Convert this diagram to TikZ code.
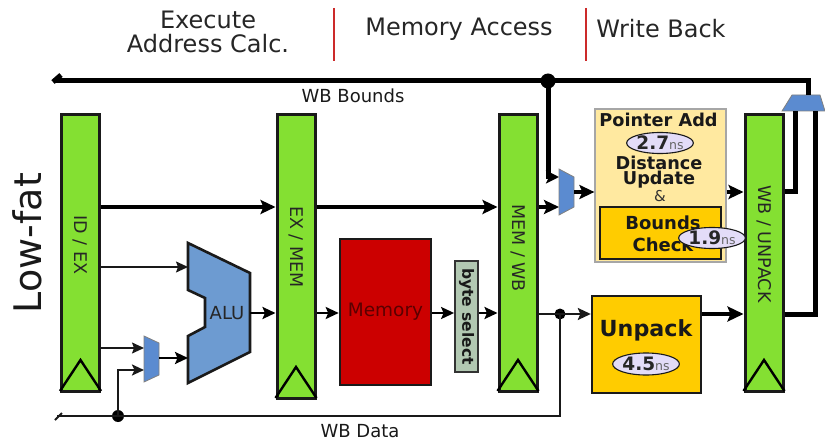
\documentclass[tikz,border=0pt]{standalone}
\usepackage{fontspec}
\setmainfont{DejaVu Sans}
\usetikzlibrary{arrows.meta,calc,shapes.geometric}
\definecolor{reggreen}{HTML}{84E032}
\definecolor{alublue}{HTML}{6D9BD1}
\definecolor{muxblue}{HTML}{5B8BD0}
\definecolor{memred}{HTML}{CC0000}
\definecolor{memtext}{HTML}{5A0000}
\definecolor{orangebox}{HTML}{FFCC00}
\definecolor{paleyellow}{HTML}{FFE9A0}
\definecolor{lilac}{HTML}{E3DCF8}
\definecolor{sagegrey}{HTML}{B2C8B2}
\definecolor{stagered}{HTML}{CC2A2A}
\definecolor{inkdark}{HTML}{1A1A1A}
\tikzset{
  regbox/.style={draw=inkdark,line width=3pt,fill=reggreen,inner sep=0pt,minimum width=38pt,text=inkdark},
  reglabel/.style={rotate=-90,font=\fontsize{17.5}{18}\selectfont,text=black!85},
  clk/.style={draw=black,line width=2.4pt,line join=miter},
  wirethin/.style={draw=black!90,line width=1.6pt,-{Stealth[length=12pt,width=11pt,inset=2pt]}},
  wiremed/.style={draw=black,line width=2.4pt,-{Stealth[length=13pt,width=12pt,inset=2.5pt]}},
  wirethick/.style={draw=black,line width=4.2pt,-{Stealth[length=15pt,width=14pt,inset=3pt]}},
  busthick/.style={draw=black,line width=5pt,line join=miter},
  busthin/.style={draw=black!90,line width=2.2pt,line join=miter},
  dot/.style={circle,fill=black,inner sep=0pt},
  nsoval/.style={ellipse,draw=inkdark,line width=1.1pt,fill=lilac,inner sep=0pt,minimum width=57pt,minimum height=21pt},
  stagehead/.style={font=\fontsize{24}{25}\selectfont,text=black!85,align=center},
  stagebar/.style={draw=stagered,line width=2pt},
  smalllabel/.style={font=\fontsize{18}{19}\selectfont,text=black!90},
  boldlabel/.style={font=\bfseries\fontsize{17.7}{15}\selectfont,text=black!90,align=center,inner sep=0pt},
}
\newcommand{\nslabel}[1]{{\bfseries\fontsize{18.5}{18}\selectfont\color{black!85}#1}{\fontsize{12.5}{12}\selectfont\color{black!60}ns}}
\begin{document}
\begin{tikzpicture}[x=1pt,y=-1pt]
\useasboundingbox (0,0) rectangle (825,441);
% rows
\coordinate (rowtop) at (0,81);
\coordinate (rowa) at (0,207);
\coordinate (rowb) at (0,314);
\coordinate (rowc) at (0,192);
\coordinate (rowbus) at (0,416);
% headings
\node[stagehead] (hex) at (208,32) {Execute\\[-1pt]Address Calc.};
\node[stagehead] (hmem) at (459,29) {Memory Access};
\node[stagehead] (hwb) at (661,29) {Write Back};
\draw[stagebar] (334,8) coordinate (ba) -- (334,61) coordinate (bb);
\draw[stagebar] (586,8) coordinate (bc) -- (586,61) coordinate (bd);
\node[rotate=90,font=\fontsize{38}{40}\selectfont,text=black!90] (lowfat) at (27,243) {Low-fat};
% registers
\node[regbox,minimum height=276pt] (idex) at (80.5,253) {};
\node[regbox,minimum height=283pt] (exmem) at (296,256.5) {};
\node[regbox,minimum height=276pt] (memwb) at (518,253) {};
\node[regbox,minimum height=276pt] (wbun) at (764,253) {};
\node[reglabel] (lid) at (80.5,245) {ID / EX};
\node[reglabel] (lex) at (296,247) {EX / MEM};
\node[reglabel] (lmw) at (518,248) {MEM / WB};
\node[reglabel] (lwb) at (764,244) {WB / UNPACK};
\foreach \n/\yb/\yt in {idex/391/360,exmem/398/367,memwb/391/360,wbun/391/360}{
  \draw[clk] ($(\n.south west|-0,\yb)$) -- ($(\n.south|-0,\yt)$) -- ($(\n.south east|-0,\yb)$);
}
% memory, byte select
\node[draw=inkdark,line width=2.6pt,fill=memred,minimum width=91pt,minimum height=146pt,inner sep=0pt,font=\fontsize{18.5}{19}\selectfont,text=memtext] (mem) at (385.5,312) {Memory};
\node[draw=black!80,line width=1.8pt,fill=sagegrey,minimum width=23pt,minimum height=111pt,inner sep=0pt] (bsel) at (466.5,316.5) {};
\node[rotate=-90,font=\bfseries\fontsize{15.5}{16}\selectfont,text=black!90] (lbs) at (466.5,316.5) {byte select};
% ALU and muxes
\draw[draw=inkdark,line width=2.6pt,fill=alublue,line join=miter] (188,243) -- (250,273) -- (250,352) -- (188,383) -- (188,336) -- (205,327) -- (205,298) -- (188,290) -- cycle;
\node[font=\fontsize{18}{19}\selectfont,text=black!85] (lalu) at (227,313) {ALU};
\coordinate (alua) at (188,267); \coordinate (alub) at (188,358); \coordinate (aluo) at (250,313);
\draw[draw=black!50,line width=.8pt,fill=muxblue] (144,336) -- (159,343) -- (159,375) -- (144,382) -- cycle;
\coordinate (muxa) at (144,348); \coordinate (muxb) at (144,370); \coordinate (muxo) at (159,358);
\draw[draw=black!50,line width=.8pt,fill=muxblue] (559,169) -- (574,177) -- (574,207) -- (559,215) -- cycle;
\coordinate (mubt) at (559,177); \coordinate (mubb) at (559,207); \coordinate (mubo) at (574,192);
\draw[draw=black!50,line width=.8pt,fill=muxblue] (782,111) -- (792,95) -- (820,95) -- (825,111) -- cycle;
\coordinate (topo) at (808,95); \coordinate (topa) at (795,111); \coordinate (topb) at (815,111);
% pointer add box
\node[draw=black!35,line width=1.2pt,fill=paleyellow,minimum width=131pt,minimum height=153pt,inner sep=0pt] (padd) at (660.5,185.5) {};
\node[draw=inkdark,line width=2.2pt,fill=orangebox,minimum width=121pt,minimum height=52pt,inner sep=0pt] (bchk) at (660.5,233) {};
\node[boldlabel] (lpa) at (658.5,120) {Pointer Add};
\node[nsoval] (o27) at (660,143) {\nslabel{2.7}};
\node[boldlabel] (ldu) at (659,172) {Distance\\Update};
\node[font=\fontsize{15}{15}\selectfont,text=black!80,inner sep=0pt] (lamp) at (660,196) {\&};
\node[boldlabel,font=\bfseries\fontsize{18}{22}\selectfont] (lbc) at (663,234) {Bounds\\Check};
\node[nsoval] (o19) at (712,238) {\nslabel{1.9}};
% unpack
\node[draw=inkdark,line width=2.4pt,fill=orangebox,minimum width=109pt,minimum height=97pt,inner sep=0pt] (unp) at (646.5,344.5) {};
\node[font=\bfseries\fontsize{22.2}{22}\selectfont,text=black!90,inner sep=0pt] (lun) at (646,330) {Unpack};
\node[nsoval,minimum height=22pt] (o45) at (646,364) {\nslabel{4.5}};
% wires
\draw[wirethin] (idex.east|-alua) -- (alua);
\draw[wirethin] (idex.east|-muxa) -- (muxa);
\draw[wiremed] (muxo) -- (alub);
\draw[wiremed] (aluo) -- (exmem.west|-aluo);
\draw[wiremed] (exmem.east|-aluo) -- (mem.west|-aluo);
\draw[wiremed] (mem.east|-aluo) -- (bsel.west|-aluo);
\draw[wiremed] (bsel.east|-aluo) -- (memwb.west|-aluo);
\draw[wirethick] (idex.east|-rowa) -- (exmem.west|-rowa);
\draw[wirethick] (exmem.east|-rowa) -- (memwb.west|-rowa);
\draw[wirethick] (memwb.east|-rowa) -- (mubb);
\draw[wirethick] (mubo) -- (padd.west|-mubo);
\draw[wirethick] (padd.east|-rowc) -- (wbun.west|-rowc);
% WB bounds bus
\node[dot,minimum size=15pt] (dbnd) at (548,81) {};
\draw[busthick] (topo) -- (topo|-rowtop) -- (56,81) coordinate (busl);
\draw[draw=black,line width=5pt] (53,82) coordinate (bta) -- (61,75) coordinate (btb);
\draw[busthick,-{Stealth[length=13pt,width=13pt,inset=3pt]}] (dbnd.center) -- (dbnd.center|-mubt) -- (mubt);
\draw[busthick] (wbun.east|-rowc) -- (topa|-rowc) -- (topa);
\draw[busthick] (wbun.east|-rowb) -- (topb|-rowb) -- (topb);
\node[smalllabel] (lwbb) at (353,96) {WB Bounds};
% WB data bus
\node[dot,minimum size=11pt] (dunp) at (560,314) {};
\node[dot,minimum size=12pt] (dmux) at (118,416) {};
\draw[wirethin,line width=2.2pt,-{Stealth[length=13pt,width=12pt,inset=2.5pt]}] (memwb.east|-rowb) -- (unp.west|-rowb);
\draw[wirethick,line width=4.5pt,-{Stealth[length=16pt,width=15pt,inset=3pt]}] (unp.east|-rowb) -- (wbun.west|-rowb);
\draw[busthin] (dunp.center) -- (dunp.center|-rowbus) -- (57,416) coordinate (busd);
\draw[draw=black!90,line width=2pt] (55,420) coordinate (bda) -- (62,413) coordinate (bdb);
\draw[busthin,-{Stealth[length=12pt,width=11pt,inset=2.5pt]}] (dmux.center) -- (dmux.center|-muxb) -- (muxb);
\node[smalllabel] (lwbd) at (360,431) {WB Data};
\end{tikzpicture}
\end{document}
